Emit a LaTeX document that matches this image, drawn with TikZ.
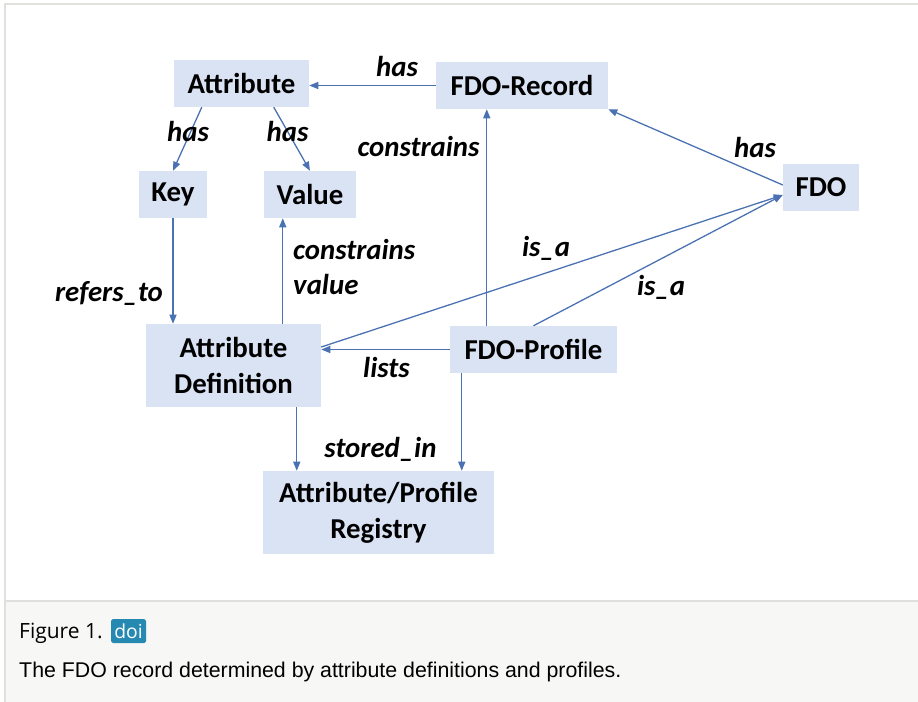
\documentclass[tikz,border=0pt]{standalone}
\usepackage{fontspec}
\setmainfont{Carlito}
\newfontfamily\capfont{Liberation Sans}
\newfontfamily\figfont{Open Sans}
\usepackage{tikz}
\usetikzlibrary{arrows.meta, calc}
\definecolor{boxblue}{RGB}{218,227,243}
\definecolor{linkblue}{RGB}{74,114,178}
\definecolor{framegray}{RGB}{224,224,220}
\definecolor{capgray}{RGB}{247,247,245}
\definecolor{doiblue}{RGB}{38,137,178}

\begin{document}
\begin{tikzpicture}[x=0.03cm, y=-0.03cm]
    \tikzstyle{block} = [rectangle, fill=boxblue, font=\bfseries\fontsize{24.6}{30.7}\selectfont, align=center, inner sep=0pt, minimum height=1.41cm]
    \tikzstyle{lbl} = [font=\bfseries\itshape\fontsize{24.6}{30}\selectfont, inner sep=0pt, align=left]
    \tikzstyle{arrow} = [draw=linkblue, line width=1.1pt, -{Triangle[length=7.7pt,width=6pt]}]
    
    \useasboundingbox (0,0) rectangle (918,702);
    \fill[capgray] (5,601) rectangle (918,702);
    \draw[framegray, line width=1.7pt] (5,702) -- (5,4) -- (918,4);
    \draw[framegray, line width=1.7pt] (5,601) -- (918,601);
    
    \node[block, minimum width=4.05cm] (attr) at (241.5,83.5) {Attribute};
    \node[block, minimum width=5.16cm] (rec) at (522,85.5) {FDO-Record};
    \node[block, minimum width=2.04cm] (key) at (173,194.5) {Key};
    \node[block, minimum width=2.76cm] (val) at (310,194.5) {Value};
    \node[block, minimum width=2.28cm] (fdo) at (821,187.5) {FDO};
    \node[block, minimum width=5.25cm, minimum height=2.49cm] (def) at (233.5,365.5) {Attribute\\Definition};
    \node[block, minimum width=5.01cm] (prof) at (533.5,349.5) {FDO-Profile};
    \node[block, minimum width=6.93cm, minimum height=2.49cm] (reg) at (378.5,512.5) {Attribute/Profile\\Registry};
    
    \draw[arrow] (rec.west) -- (rec.west -| attr.east);
    \draw[arrow] ([xshift=0.84cm]attr.south west) -- (key.north);
    \draw[arrow] ([xshift=3cm]attr.south west) -- (val.north);
    \draw[arrow] (key.south) -- (key.south |- def.north);
    \draw[arrow] ([xshift=4.11cm]def.north west) -- ([xshift=4.11cm]def.north west |- val.south);
    \draw[arrow] ([xshift=1.11cm]prof.north west) -- ([xshift=1.11cm]prof.north west |- rec.south);
    \draw[arrow] ([yshift=0.075cm]fdo.west) -- (rec.south east);
    \draw[arrow] ([yshift=0.555cm]def.east) -- ([yshift=-0.225cm]fdo.west);
    \draw[arrow] (prof.north) -- ([yshift=-0.225cm]fdo.west);
    \draw[arrow] (prof.west) -- (prof.west -| def.east);
    \draw[arrow] ([xshift=4.53cm]def.south west) -- ([xshift=4.53cm]def.south west |- reg.north);
    \draw[arrow] ([xshift=0.36cm]prof.south west) -- ([xshift=0.36cm]prof.south west |- reg.north);
    
    \node[lbl] (has-rec) at (397,66) {has};
    \node[lbl] (has-key) at (188,131) {has};
    \node[lbl] (has-val) at (287.5,131) {has};
    \node[lbl] (cons-rec) at (418.5,146) {constrains};
    \node[lbl] (has-fdo) at (755,147) {has};
    \node[lbl, anchor=west] (cons-val) at (293,267) {constrains\\value};
    \node[lbl] (refers) at (109,293) {refers\_to};
    \node[lbl] (isa-def) at (546,248) {is\_a};
    \node[lbl] (isa-prof) at (661,287) {is\_a};
    \node[lbl] (lists) at (386.5,367) {lists};
    \node[lbl] (stored) at (380.5,449) {stored\_in};
    
    \node[anchor=base west, inner sep=0pt, font=\figfont\fontsize{17.9}{20}\selectfont] (figno) at (19,638) {Figure 1.};
    \node[fill=doiblue, rounded corners=1.5pt, minimum width=1.05cm, minimum height=0.72cm, inner sep=0pt, text=white, font=\figfont\fontsize{16.5}{18}\selectfont] (doi) at (128.5,631) {doi};
    \node[anchor=base west, inner sep=0pt, font=\capfont\fontsize{18.2}{20}\selectfont] (caption) at (19,677) {The FDO record determined by attribute definitions and profiles.};
\end{tikzpicture}
\end{document}
